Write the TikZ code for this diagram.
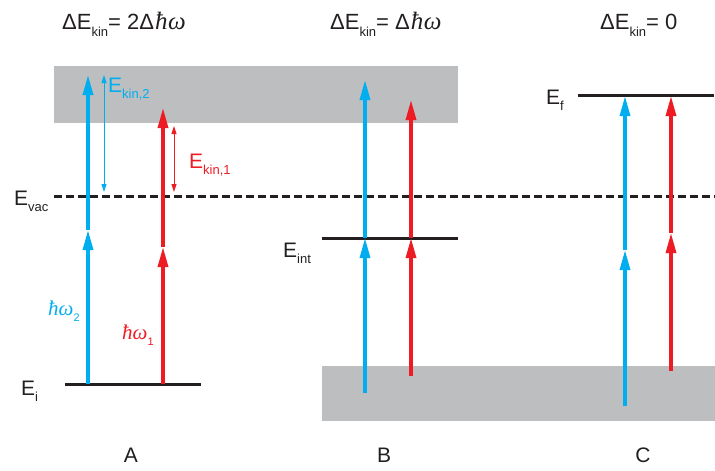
\documentclass[tikz,border=0pt]{standalone}
\usepackage{fontspec}
\setmainfont{Liberation Sans}
\newfontfamily\hwfont{Liberation Serif}
\usetikzlibrary{arrows.meta}
\definecolor{cblue}{RGB}{0,174,239}
\definecolor{cred}{RGB}{237,28,36}
\definecolor{cgray}{RGB}{188,190,192}
\definecolor{ctext}{RGB}{35,31,32}
\newcommand\mysub[1]{\raisebox{-0.32em}{\fontsize{13}{13}\selectfont #1}}
\newcommand\mysmallsub[1]{\raisebox{-0.3em}{\fontsize{11}{11}\selectfont #1}}
\newcommand\hw{{\hwfont\itshape ħω}}
\newcommand\hwbig{{\fontsize{25}{26}\selectfont\hwfont\itshape \kern1pt ħ\kern0.5pt ω}}
\tikzset{
  lbl/.style={anchor=base west,inner sep=0pt,font=\fontsize{21}{24}\selectfont,text=ctext},
  ttl/.style={anchor=base west,inner sep=0pt,font=\fontsize{22}{24}\selectfont,text=ctext},
  panel/.style={anchor=center,inner sep=0pt,font=\fontsize{21}{24}\selectfont,text=ctext},
  level/.style={line width=3pt,ctext},
  photon/.style={line width=3.2pt,-{Triangle[length=20pt,width=10pt]}},
  ekin/.style={line width=1pt,{Triangle[length=8pt,width=5pt]}-{Triangle[length=8pt,width=5pt]}},
  band/.style={fill=cgray,draw=none}
}
\begin{document}
\begin{tikzpicture}[x=1pt,y=-1pt]
\useasboundingbox (0,0) rectangle (715,471);
% bands
\fill[band] (54,66) rectangle (458,123);
\fill[band] (322,366) rectangle (715,421);
% levels
\draw[level] (65,384) -- (201,384);
\draw[level] (322,238) -- (458,238);
\draw[level] (578,95) -- (714,95);
\draw[line width=3pt,ctext,dash pattern=on 8pt off 4pt] (54,196) -- (715,196);
% coordinates
\coordinate (a1) at (88,384); \coordinate (a2) at (88,230); \coordinate (a3) at (88,75);
\coordinate (a4) at (163,384); \coordinate (a5) at (163,247); \coordinate (a6) at (163,108);
\coordinate (b1) at (365,393); \coordinate (b2) at (365,238); \coordinate (b3) at (365,80);
\coordinate (b4) at (411,376); \coordinate (b5) at (411,238); \coordinate (b6) at (411,100);
\coordinate (c1) at (625,406); \coordinate (c2) at (625,250); \coordinate (c3) at (625,96);
\coordinate (c4) at (671,371); \coordinate (c5) at (671,233); \coordinate (c6) at (671,96);
\coordinate (k1) at (104,75); \coordinate (k2) at (104,192);
\coordinate (k3) at (174,126); \coordinate (k4) at (174,192);
% photons
\draw[photon,cblue] (a1) -- (a2);
\draw[photon,cblue] (a2) -- (a3);
\draw[photon,cred] (a4) -- (a5);
\draw[photon,cred] (a5) -- (a6);
\draw[photon,cblue] (b1) -- (b2);
\draw[photon,cblue] (b2) -- (b3);
\draw[photon,cred] (b4) -- (b5);
\draw[photon,cred] (b5) -- (b6);
\draw[photon,cblue] (c1) -- (c2);
\draw[photon,cblue] (c2) -- (c3);
\draw[photon,cred] (c4) -- (c5);
\draw[photon,cred] (c5) -- (c6);
% kinetic energy
\draw[ekin,cblue] (k1) -- (k2);
\draw[ekin,cred] (k3) -- (k4);
% labels
\node[ttl] (tA) at (62,29) {ΔE\mysub{kin}= 2Δ\hwbig};
\node[ttl] (tB) at (330,29) {ΔE\mysub{kin}= Δ\hwbig};
\node[ttl] (tC) at (600,29) {ΔE\mysub{kin}= 0};
\node[lbl] (Evac) at (14,205) {E\mysub{vac}};
\node[lbl] (Ei) at (21,395) {E\mysub{i}};
\node[lbl] (Eint) at (283,257) {E\mysub{int}};
\node[lbl] (Ef) at (546,104) {E\mysub{f}};
\node[lbl,text=cblue] (Ek2) at (108,92) {E\mysub{kin,2}};
\node[lbl,text=cred] (Ek1) at (189,168) {E\mysub{kin,1}};
\node[lbl,text=cblue] (hw2) at (48,315) {\hw\mysmallsub{2}};
\node[lbl,text=cred] (hw1) at (122,339) {\hw\mysmallsub{1}};
\node[panel] (pA) at (131,455) {A};
\node[panel] (pB) at (384,455) {B};
\node[panel] (pC) at (643,455) {C};
\end{tikzpicture}
\end{document}
